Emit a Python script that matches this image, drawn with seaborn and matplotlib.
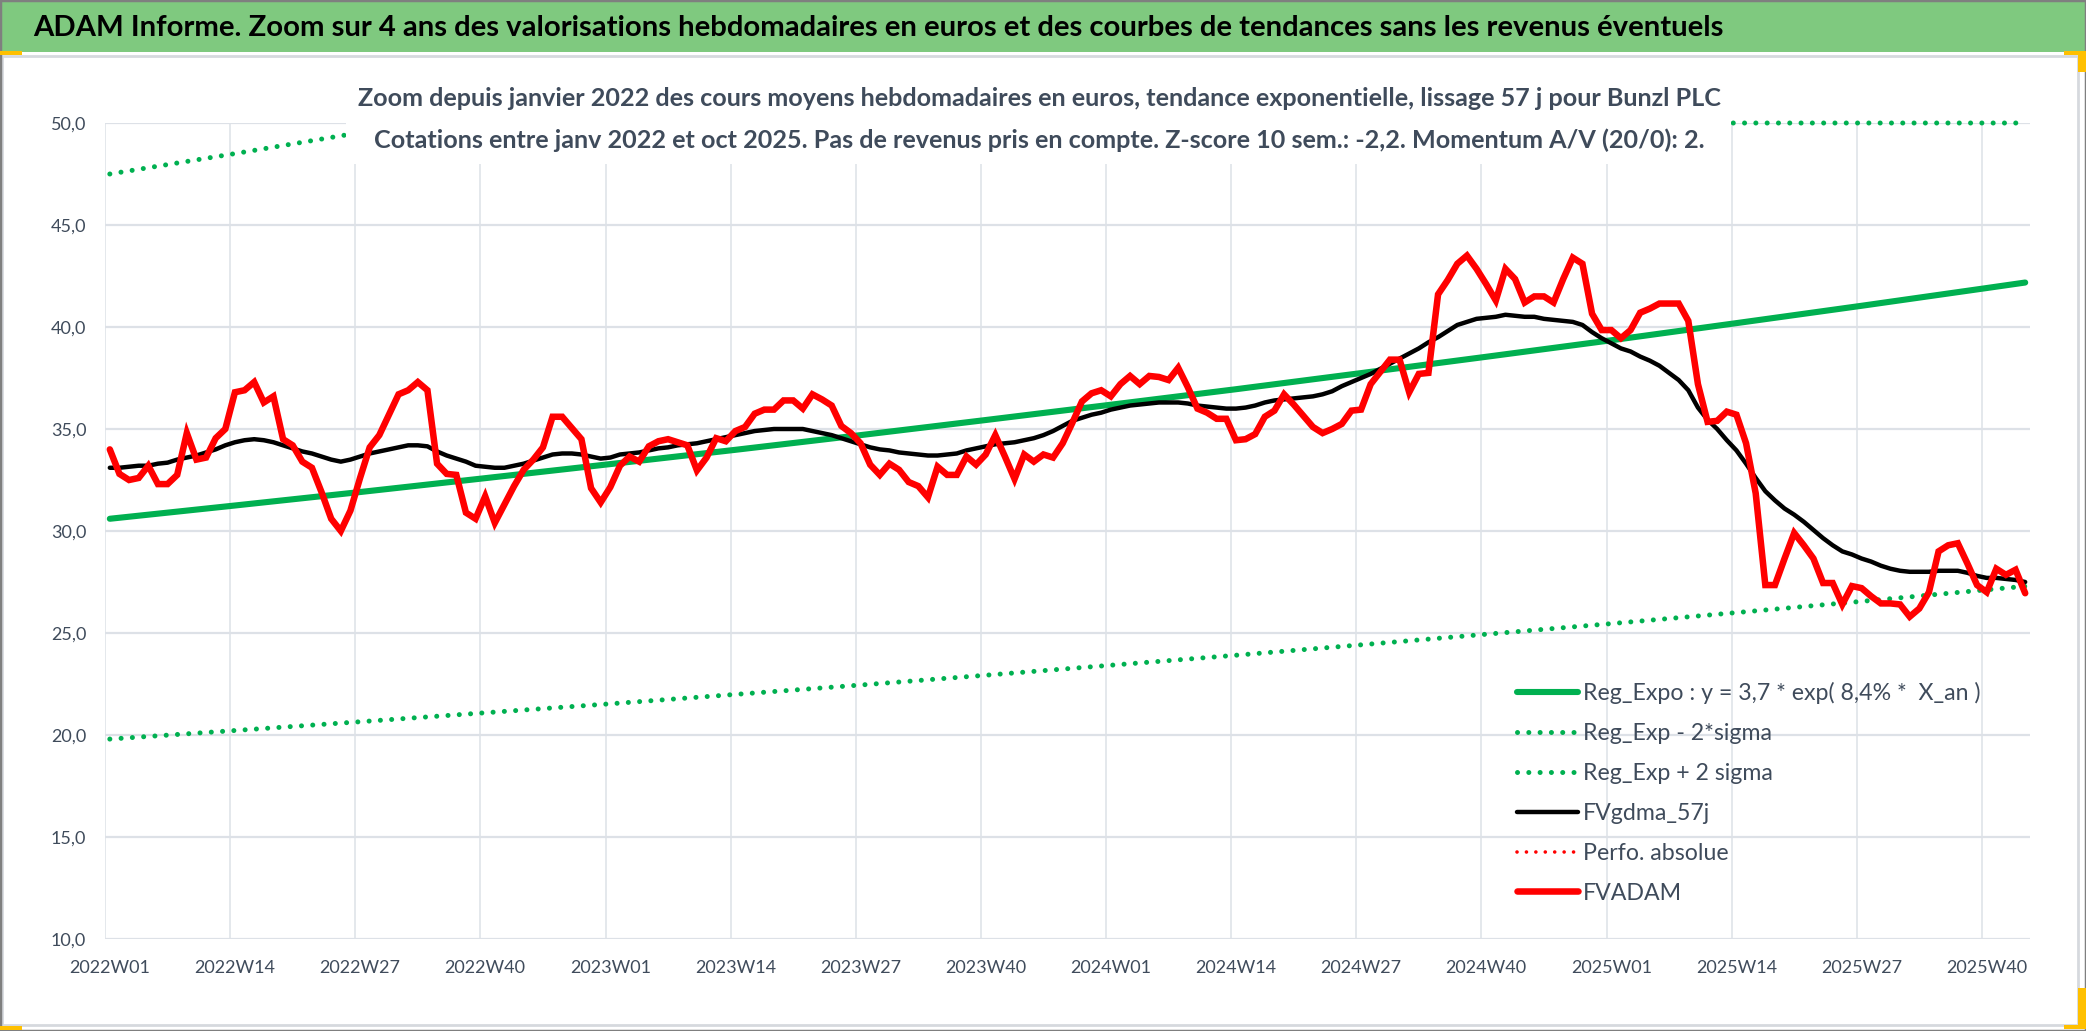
import numpy as np
import pandas as pd
import matplotlib
matplotlib.use("Agg")
import matplotlib.pyplot as plt
import seaborn as sns
from matplotlib import font_manager
from matplotlib.lines import Line2D
from matplotlib.patches import Rectangle

# ---------------- DATA ----------------
title = "ADAM Informe. Zoom sur 4 ans des valorisations hebdomadaires en euros et des courbes de tendances sans les revenus éventuels"
subtitle1 = "Zoom depuis janvier 2022 des cours moyens hebdomadaires en euros, tendance exponentielle, lissage 57 j pour Bunzl PLC"
subtitle2 = "Cotations entre janv 2022 et oct 2025. Pas de revenus pris en compte. Z-score 10 sem.: -2,2. Momentum A/V (20/0): 2."

tick_labels = ["2022W01", "2022W14", "2022W27", "2022W40",
               "2023W01", "2023W14", "2023W27", "2023W40",
               "2024W01", "2024W14", "2024W27", "2024W40",
               "2025W01", "2025W14", "2025W27", "2025W40"]

# weekly categories 2022W01 .. 2025W44
weeks = ([f"2022W{w:02d}" for w in range(1, 53)] + [f"2023W{w:02d}" for w in range(1, 53)] +
         [f"2024W{w:02d}" for w in range(1, 53)] + [f"2025W{w:02d}" for w in range(1, 45)])

fvadam = [34.0, 32.8, 32.5, 32.6, 33.2, 32.3, 32.3, 32.75, 34.8, 33.5,
          33.6, 34.55, 35.0, 36.8, 36.9, 37.3, 36.3, 36.6, 34.5, 34.2,
          33.4, 33.1, 31.9, 30.6, 30.0, 31.0, 32.6, 34.1, 34.7, 35.7,
          36.7, 36.9, 37.3, 36.9, 33.3, 32.8, 32.75, 30.9, 30.6, 31.7,
          30.4, 31.3, 32.2, 33.0, 33.5, 34.1, 35.6, 35.6, 35.05, 34.5,
          32.1, 31.4, 32.15, 33.2, 33.65, 33.4, 34.15, 34.4, 34.5, 34.35,
          34.2, 32.97, 33.6, 34.55, 34.4, 34.9, 35.1, 35.75, 35.95, 35.95,
          36.4, 36.4, 36.0, 36.7, 36.45, 36.15, 35.15, 34.8, 34.3, 33.25,
          32.75, 33.3, 33.0, 32.4, 32.2, 31.65, 33.15, 32.75, 32.75, 33.65,
          33.25, 33.75, 34.7, 33.65, 32.55, 33.75, 33.4, 33.75, 33.6, 34.3,
          35.3, 36.35, 36.75, 36.9, 36.6, 37.2, 37.6, 37.2, 37.6, 37.55,
          37.4, 38.0, 37.05, 36.0, 35.8, 35.5, 35.5, 34.45, 34.5, 34.75,
          35.6, 35.9, 36.7, 36.2, 35.65, 35.1, 34.8, 35.0, 35.25, 35.9,
          35.95, 37.2, 37.8, 38.4, 38.4, 36.8, 37.7, 37.75, 41.6, 42.3,
          43.1, 43.5, 42.85, 42.1, 41.3, 42.85, 42.35, 41.2, 41.5, 41.5,
          41.2, 42.35, 43.4, 43.1, 40.65, 39.85, 39.85, 39.45, 39.85, 40.7,
          40.9, 41.15, 41.15, 41.15, 40.3, 37.2, 35.35, 35.4, 35.85, 35.7,
          34.3, 31.85, 27.35, 27.35, 28.65, 29.9, 29.3, 28.65, 27.45, 27.45,
          26.4, 27.3, 27.2, 26.8, 26.45, 26.45, 26.4, 25.8, 26.2, 27.0,
          29.0, 29.3, 29.4, 28.4, 27.35, 27.0, 28.15, 27.85, 28.1, 26.95]

fvgdma_57j = [33.1, 33.1, 33.15, 33.2, 33.2, 33.3, 33.35, 33.5, 33.6, 33.7,
              33.85, 34.0, 34.2, 34.35, 34.45, 34.5, 34.45, 34.35, 34.2, 34.05,
              33.9, 33.8, 33.65, 33.5, 33.4, 33.5, 33.65, 33.8, 33.9, 34.0,
              34.1, 34.2, 34.2, 34.15, 33.9, 33.7, 33.55, 33.4, 33.2, 33.15,
              33.1, 33.1, 33.2, 33.3, 33.45, 33.6, 33.75, 33.8, 33.8, 33.75,
              33.65, 33.55, 33.6, 33.75, 33.8, 33.85, 33.95, 34.05, 34.1, 34.2,
              34.25, 34.3, 34.4, 34.5, 34.6, 34.7, 34.8, 34.9, 34.95, 35.0,
              35.0, 35.0, 35.0, 34.9, 34.8, 34.7, 34.55, 34.4, 34.25, 34.1,
              34.0, 33.95, 33.85, 33.8, 33.75, 33.7, 33.7, 33.75, 33.8, 33.95,
              34.05, 34.15, 34.25, 34.3, 34.35, 34.45, 34.55, 34.7, 34.9, 35.15,
              35.4, 35.55, 35.7, 35.8, 35.95, 36.05, 36.15, 36.2, 36.25, 36.3,
              36.3, 36.3, 36.25, 36.15, 36.1, 36.05, 36.0, 36.0, 36.05, 36.15,
              36.3, 36.4, 36.45, 36.5, 36.55, 36.6, 36.7, 36.85, 37.1, 37.3,
              37.5, 37.7, 37.95, 38.2, 38.45, 38.7, 38.95, 39.25, 39.5, 39.8,
              40.1, 40.25, 40.4, 40.45, 40.5, 40.6, 40.55, 40.5, 40.5, 40.4,
              40.35, 40.3, 40.25, 40.1, 39.75, 39.45, 39.2, 38.95, 38.8, 38.55,
              38.35, 38.1, 37.75, 37.4, 36.9, 36.05, 35.45, 35.0, 34.45, 33.95,
              33.3, 32.6, 31.95, 31.5, 31.1, 30.8, 30.45, 30.05, 29.65, 29.3,
              29.0, 28.85, 28.65, 28.5, 28.3, 28.15, 28.05, 28.0, 28.0, 28.0,
              28.05, 28.05, 28.05, 27.95, 27.8, 27.7, 27.7, 27.65, 27.6, 27.5]

# regression curves read at every labelled week (and at the last week)
reg_weeks = ["2022W01", "2022W14", "2022W27", "2022W40", "2023W01", "2023W14", "2023W27", "2023W40",
             "2024W01", "2024W14", "2024W27", "2024W40", "2025W01", "2025W14", "2025W27", "2025W40", "2025W44"]
reg_expo = [30.6, 31.25, 31.91, 32.59, 33.28, 33.98, 34.70, 35.44, 36.19, 36.95,
            37.74, 38.54, 39.35, 40.19, 41.04, 41.91, 42.18]
reg_minus = [19.8, 20.22, 20.65, 21.09, 21.53, 21.99, 22.45, 22.93, 23.42, 23.91,
             24.42, 24.94, 25.46, 26.0, 26.55, 27.12, 27.29]
reg_plus = [47.5, 48.5, 49.53, 50.58, 51.65, 52.74, 53.86, 55.0, 56.17, 57.35,
            58.57, 59.81, 61.07, 62.37, 63.69, 65.04, 65.46]

legend_labels = ["Reg_Expo : y = 3,7 * exp( 8,4% *  X_an )", "Reg_Exp - 2*sigma",
                 "Reg_Exp + 2 sigma", "FVgdma_57j", "Perfo. absolue", "FVADAM"]

y_ticks = [10, 15, 20, 25, 30, 35, 40, 45, 50]

# ---------------- STYLE ----------------
sns.set_theme(style="white")
avail = {f.name for f in font_manager.fontManager.ttflist}
def pick(*names):
    for n in names:
        if n in avail:
            return n
    return "DejaVu Sans"
FONT = pick("Liberation Sans Narrow", "Lato", "Roboto", "Open Sans", "DejaVu Sans")
plt.rcParams["font.family"] = [FONT, "DejaVu Sans"]

W, H = 2086, 1031
def fx(x): return x / W
def fy(y): return 1 - y / H

TXT = "#3F4B5B"
GRID = "#DDE1E7"
GREEN = "#00B050"

fig = plt.figure(figsize=(W / 100, H / 100), dpi=100)
fig.patch.set_facecolor("white")

# title band and frames
fig.add_artist(Rectangle((0, fy(52)), 1, 52 / H, transform=fig.transFigure,
                         facecolor="#7FC97F", edgecolor="none", zorder=-5))
fig.add_artist(Rectangle((fx(2), fy(1025)), fx(2078) - fx(2), fy(56) - fy(1025), transform=fig.transFigure,
                         facecolor="none", edgecolor="#D6D9DE", lw=2, zorder=-4))
fig.add_artist(Rectangle((0, 0), 1, 1, transform=fig.transFigure,
                         facecolor="none", edgecolor="#7F7F7F", lw=2.5, zorder=10))
# selection corner marks
for (x0, y0, x1, y1) in [(0, 51, 22, 55), (2064, 51, 2086, 55), (2078, 51, 2086, 72),
                         (2078, 988, 2086, 1029), (2064, 1025, 2086, 1029), (0, 1026, 22, 1030)]:
    fig.add_artist(Rectangle((fx(x0), fy(y1)), fx(x1) - fx(x0), fy(y0) - fy(y1), transform=fig.transFigure,
                             facecolor="#FFC000", edgecolor="none", zorder=11))

ax = fig.add_axes([fx(105), fy(939), fx(2030) - fx(105), fy(123) - fy(939)])
ax.set_facecolor("none")

pos = {w: i for i, w in enumerate(weeks)}
x_all = np.arange(len(weeks))
x_reg = [pos[w] for w in reg_weeks]
y_max = y_ticks[-1]

dots = (0, (0.01, 2.25))
sns.lineplot(x=x_reg, y=np.minimum(reg_plus, y_max), ax=ax, color=GREEN, lw=3.6,
             linestyle=dots, dash_capstyle="round", legend=False, zorder=2, clip_on=False)
h_plus = ax.get_lines()[-1]
sns.lineplot(x=x_reg, y=reg_minus, ax=ax, color=GREEN, lw=3.6,
             linestyle=dots, dash_capstyle="round", legend=False, zorder=2)
h_minus = ax.get_lines()[-1]
sns.lineplot(x=x_reg, y=reg_expo, ax=ax, color=GREEN, lw=4.4, legend=False, zorder=3)
h_expo = ax.get_lines()[-1]
sns.lineplot(x=x_all, y=fvgdma_57j, ax=ax, color="black", lw=3.2, legend=False, zorder=4)
h_gdma = ax.get_lines()[-1]
sns.lineplot(x=x_all, y=fvadam, ax=ax, color="#FF0000", lw=4.7, legend=False, zorder=5,
             solid_joinstyle="miter")
h_adam = ax.get_lines()[-1]
h_perfo = Line2D([], [], color="#FF0000", lw=2.6, linestyle=(0, (0.01, 2.6)), dash_capstyle="round")

ax.set_xlim(-0.5, len(weeks) - 0.5)
ax.set_ylim(y_ticks[0], y_ticks[-1])
for s in ax.spines.values():
    s.set_visible(False)

major = [pos[w] - 0.5 for w in tick_labels]
minor = [pos[w] for w in tick_labels]
ax.set_xticks(major)
ax.set_xticklabels([])
ax.set_xticks(minor, minor=True)
ax.set_xticklabels(tick_labels, minor=True)
ax.set_yticks(y_ticks)
ax.set_yticklabels([f"{v:.1f}".replace(".", ",") for v in y_ticks])
ax.grid(False)
ax.yaxis.grid(True, color=GRID, lw=1.6)
ax.xaxis.grid(True, which="major", color=GRID, lw=1.1)
ax.set_axisbelow(True)
ax.tick_params(axis="x", which="major", length=5, width=1.1, color=GRID, direction="out")
ax.tick_params(axis="x", which="minor", length=0, pad=15, labelcolor=TXT)
ax.tick_params(axis="y", length=0, pad=13.5, labelcolor=TXT)
ax.set_xlabel("")
ax.set_ylabel("")

# ---------------- TEXT SIZING ----------------
fig.canvas.draw()
R = fig.canvas.get_renderer()

def size_for(text, target_w, weight="normal", base=20):
    t = fig.text(0, 0, text, fontsize=base, fontweight=weight)
    w = t.get_window_extent(R).width
    t.remove()
    return base * target_w / w

tick_fs = size_for("2022W01", 80)
ytick_fs = size_for("50,0", 36)
fs_tick = (tick_fs + ytick_fs) / 2
for lab in ax.get_xticklabels(minor=True):
    lab.set_fontsize(fs_tick)
for lab in ax.get_yticklabels():
    lab.set_fontsize(fs_tick)

title_fs = size_for(title, 1695, "bold")
fig.text(fx(33), fy(28), title, fontsize=title_fs, fontweight="bold", color="black",
         ha="left", va="center", zorder=12)

# subtitle box hiding the plot behind it
fig.add_artist(Rectangle((fx(346), fy(164)), fx(1731) - fx(346), fy(66) - fy(164),
                         transform=fig.transFigure, facecolor="white", edgecolor="none", zorder=6))
s1_fs = size_for(subtitle1, 1366, "bold")
s2_fs = size_for(subtitle2, 1326, "bold")
sub_fs = (s1_fs + s2_fs) / 2
fig.text(fx(1039), fy(98), subtitle1, fontsize=sub_fs, fontweight="bold", color=TXT,
         ha="center", va="center", zorder=7)
fig.text(fx(1039), fy(140), subtitle2, fontsize=sub_fs, fontweight="bold", color=TXT,
         ha="center", va="center", zorder=7)

# ---------------- LEGEND ----------------
leg_fs = size_for(legend_labels[0], 397)
handles = [h_expo, h_minus, h_plus, h_gdma, h_perfo, h_adam]
fpx = leg_fs * 100 / 72

def make_legend(spacing, anchor_y):
    lg = ax.legend(handles, legend_labels, loc="upper left",
                   bbox_to_anchor=(fx(1517), anchor_y), bbox_transform=fig.transFigure,
                   frameon=False, fontsize=leg_fs, handlelength=61 / fpx, handletextpad=5 / fpx,
                   labelspacing=spacing, borderpad=0, borderaxespad=0, labelcolor=TXT)
    return lg

spacing = 0.5
lg = make_legend(spacing, fy(676))
fig.canvas.draw()
cs = [t.get_window_extent(R) for t in lg.get_texts()]
pitch = ((cs[0].y0 + cs[0].y1) / 2 - (cs[-1].y0 + cs[-1].y1) / 2) / 5
spacing = spacing + (40 - pitch) / fpx
lg.remove()
lg = make_legend(spacing, fy(676))
fig.canvas.draw()
c0 = lg.get_texts()[0].get_window_extent(R)
cy = (c0.y0 + c0.y1) / 2
dy = (H - 693) - cy
lg.remove()
lg = make_legend(spacing, fy(676) + dy / H)

fig.savefig("out.png", dpi=100, facecolor="white")
